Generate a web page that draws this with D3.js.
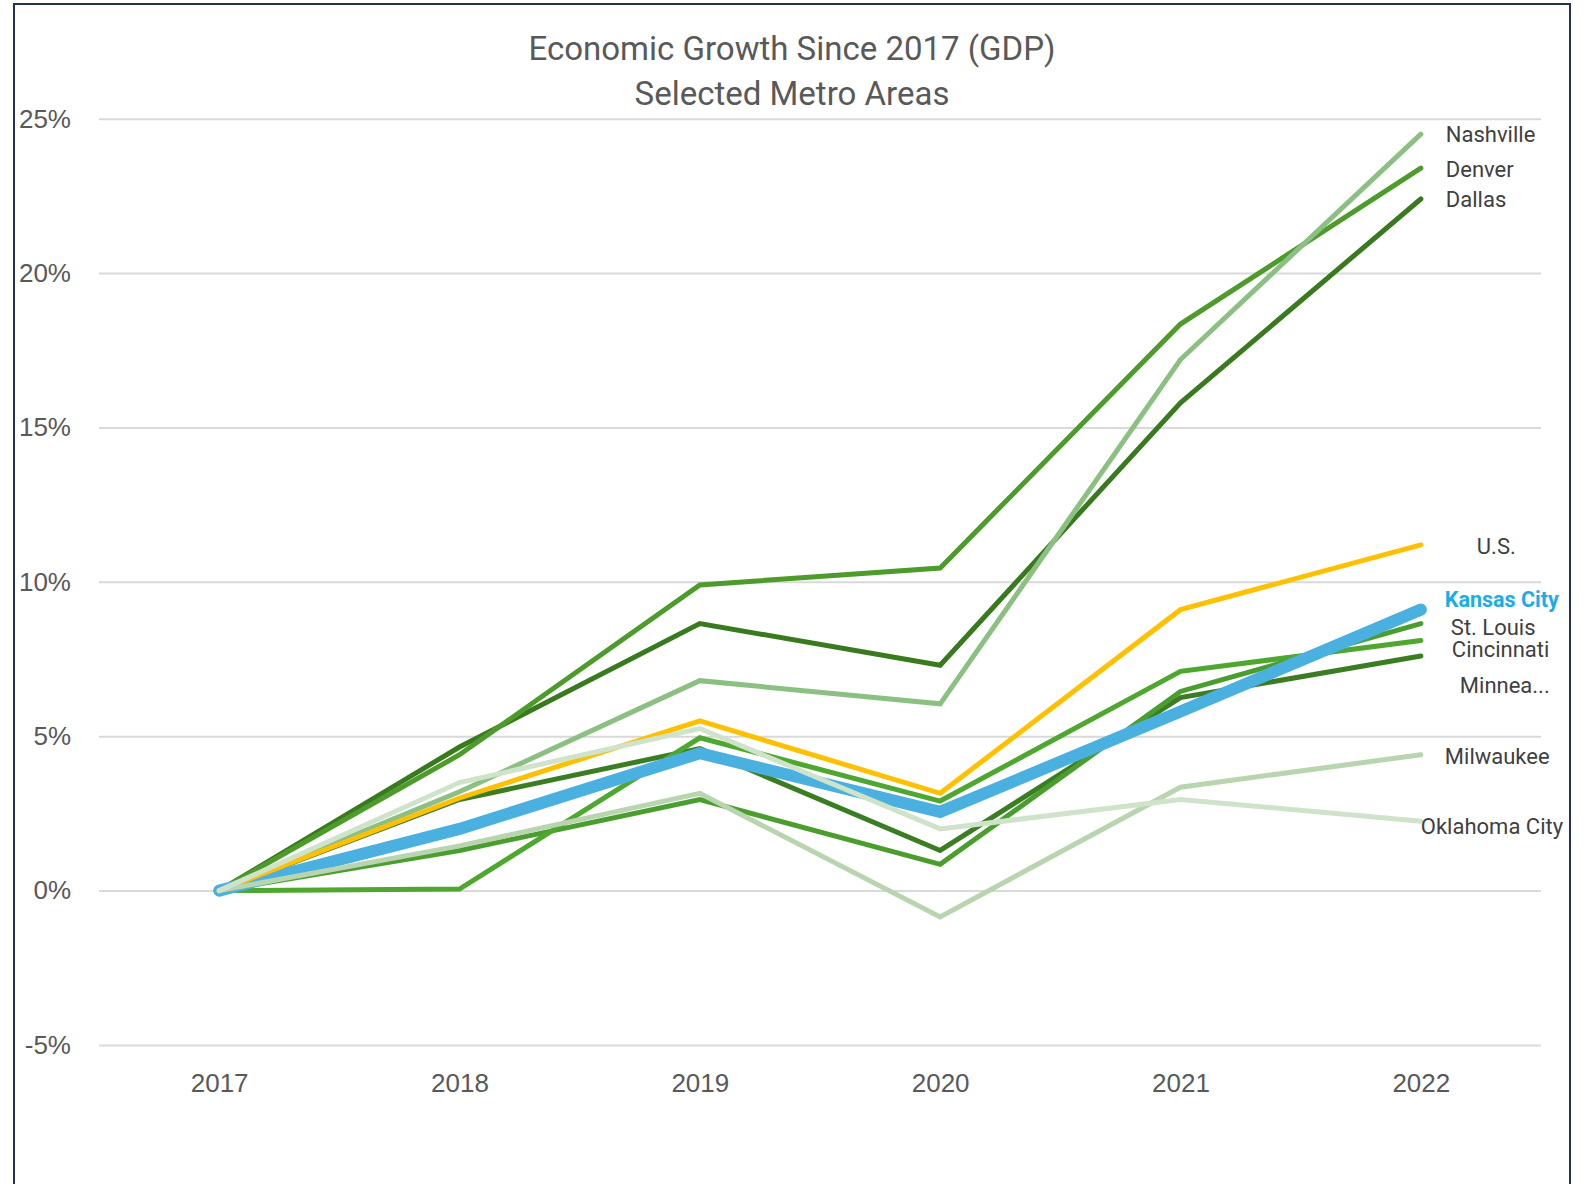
<!DOCTYPE html>
<meta charset="utf-8">
<html>
<head>
  <title>Economic Growth Since 2017</title>
  <script src="https://d3js.org/d3.v7.min.js"></script>
  <style type="text/css">
    body {margin: 0; background: #fff;}
    .title {font-family: Roboto, "Noto Sans", sans-serif; fill: #595959;}
    .axis text {font-family: "Liberation Sans", Arial, sans-serif; fill: #595959;}
    .label {font-family: Roboto, "Noto Sans", sans-serif; fill: #404040;}
  </style>
</head>
<body>
<div id="chart"></div>

<script>
    // Data (% GDP growth since 2017)
    var years = ["2017", "2018", "2019", "2020", "2021", "2022"];
    var yTicks = [-5, 0, 5, 10, 15, 20, 25];

    var nashville    = [0, 3.2, 6.8, 6.05, 17.2, 24.5];
    var denver       = [0, 4.4, 9.9, 10.45, 18.35, 23.4];
    var dallas       = [0, 4.65, 8.65, 7.3, 15.8, 22.4];
    var us           = [0, 3.0, 5.5, 3.15, 9.1, 11.2];
    var kansasCity   = [0, 2.0, 4.45, 2.55, 5.8, 9.1];
    var stLouis      = [0, 1.3, 2.95, 0.85, 6.45, 8.65];
    var cincinnati   = [0, 0.05, 4.95, 2.9, 7.1, 8.1];
    var minneapolis  = [0, 2.95, 4.6, 1.3, 6.25, 7.6];
    var milwaukee    = [0, 1.45, 3.15, -0.85, 3.35, 4.4];
    var oklahomaCity = [0, 3.5, 5.25, 2.0, 2.95, 2.25];

    // Series in drawing order (last one on top)
    var series = [
        {label: "Minnea...", values: minneapolis, color: "#3A7D22", width: 5, dx: 39, dy: 29},
        {label: "St. Louis", values: stLouis, color: "#4A9E2D", width: 5, dx: 30, dy: 4},
        {label: "Cincinnati", values: cincinnati, color: "#4EA72E", width: 5, dx: 31, dy: 9},
        {label: "Dallas", values: dallas, color: "#3A7A1F", width: 5, dx: 25, dy: 0},
        {label: "Denver", values: denver, color: "#4C9B2B", width: 5, dx: 25, dy: 1},
        {label: "Nashville", values: nashville, color: "#8CBF82", width: 5, dx: 25, dy: 0},
        {label: "Kansas City", values: kansasCity, color: "#4AB0E0", width: 12, dx: 24, dy: -10, bold: true, textColor: "#1CADE8"},
        {label: "U.S.", values: us, color: "#FFC000", width: 5, dx: 56, dy: 2},
        {label: "Milwaukee", values: milwaukee, color: "#B8D5B0", width: 5, dx: 24, dy: 2},
        {label: "Oklahoma City", values: oklahomaCity, color: "#CFE3CB", width: 5, dx: 0, dy: 5}
    ];

    var width = 1588,
        height = 1184,
        plot = {left: 99, right: 1541, top: 118.7, bottom: 1045};

    var svg = d3.select("#chart")
        .append("svg")
        .attr("width", width)
        .attr("height", height);

    // chart frame
    svg.append("rect")
        .attr("x", 14)
        .attr("y", 4)
        .attr("width", 1556)
        .attr("height", 1220)
        .attr("fill", "#fff")
        .attr("stroke", "#263252")
        .attr("stroke-width", 2);

    // Scales
    var x = d3.scalePoint()
        .domain(years)
        .range([plot.left, plot.right])
        .padding(0.5);

    var y = d3.scaleLinear()
        .domain([-5, 25])
        .range([plot.bottom, plot.top]);

    // Y axis with gridlines
    var yAxis = svg.append("g")
        .attr("class", "axis y")
        .attr("transform", "translate(" + plot.left + ",0)")
        .call(d3.axisLeft(y)
            .tickValues(yTicks)
            .tickSize(-(plot.right - plot.left))
            .tickPadding(28)
            .tickFormat(function(d) { return d + "%"; }));
    yAxis.select(".domain").remove();
    yAxis.selectAll("line")
        .attr("stroke", "#D9D9D9")
        .attr("stroke-width", 2);
    yAxis.selectAll("text")
        .style("font-size", "26px");

    // X axis, labels only
    var xAxis = svg.append("g")
        .attr("class", "axis x")
        .attr("transform", "translate(0," + plot.bottom + ")")
        .call(d3.axisBottom(x).tickSize(0).tickPadding(29));
    xAxis.select(".domain").remove();
    xAxis.selectAll("text")
        .style("font-size", "26px");

    // Lines
    var line = d3.line()
        .x(function(d, i) { return x(years[i]); })
        .y(function(d) { return y(d); });

    svg.append("g")
        .selectAll("path")
        .data(series)
        .enter()
        .append("path")
        .attr("d", function(d) { return line(d.values); })
        .attr("fill", "none")
        .attr("stroke", function(d) { return d.color; })
        .attr("stroke-width", function(d) { return d.width; })
        .attr("stroke-linecap", "round")
        .attr("stroke-linejoin", "miter");

    // End labels
    var last = years[years.length - 1];
    svg.append("g")
        .selectAll("text")
        .data(series)
        .enter()
        .append("text")
        .attr("class", "label")
        .attr("x", function(d) { return x(last) + d.dx; })
        .attr("y", function(d) { return y(d.values[d.values.length - 1]) + d.dy; })
        .attr("dy", "0.35em")
        .style("font-size", function(d) { return d.bold ? "21.5px" : "22px"; })
        .style("font-weight", function(d) { return d.bold ? "bold" : "normal"; })
        .style("fill", function(d) { return d.textColor || "#404040"; })
        .text(function(d) { return d.label; });

    // Title
    var title = svg.append("text")
        .attr("class", "title")
        .attr("text-anchor", "middle")
        .style("font-size", "33px");
    title.append("tspan")
        .attr("x", 792)
        .attr("y", 60)
        .text("Economic Growth Since 2017 (GDP)");
    title.append("tspan")
        .attr("x", 792)
        .attr("y", 105)
        .text("Selected Metro Areas");
</script>
</body>
</html>
